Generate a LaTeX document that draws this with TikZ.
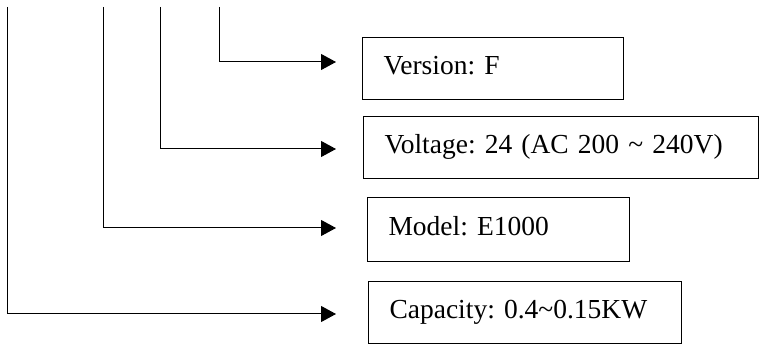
\documentclass[tikz,border=0pt]{standalone}
\usepackage{fontspec}
\setmainfont{Liberation Serif}
\usetikzlibrary{positioning, arrows.meta}
\frenchspacing

\tikzset{
    field/.style={draw, line width=1pt, anchor=north west, align=left,
        inner xsep=21pt, inner ysep=0pt, text height=19pt, text depth=6pt,
        font=\fontsize{27.5}{30}\selectfont\frenchspacing},
    lead/.style={line width=1pt},
    leadarrow/.style={lead, -{Triangle[length=15pt, width=16pt]}}
}

\begin{document}
\begin{tikzpicture}[x=1pt, y=-1pt]

    \useasboundingbox (0,0) rectangle (760,344);

    \node[field, text width=219pt, minimum height=62pt] (version) at (362,37) {Version: F};
    \node[field, text width=353pt, minimum height=62pt] (voltage) at (363,116) {Voltage: 24 (AC 200 \textasciitilde{} 240V)};
    \node[field, text width=220pt, minimum height=64pt] (model) at (367,197) {Model: E1000};
    \node[field, text width=271pt, minimum height=62pt] (capacity) at (368,281) {Capacity: 0.4\textasciitilde0.15KW};

    \coordinate (versiontop) at (219,7);
    \coordinate (voltagetop) at (160,7);
    \coordinate (modeltop) at (103,7);
    \coordinate (capacitytop) at (7,7);

    \coordinate (versionend) at (336,62);
    \coordinate (voltageend) at (336,149);
    \coordinate (modelend) at (336,228);
    \coordinate (capacityend) at (336,314);

    \draw[leadarrow] (versiontop) |- (versionend);
    \draw[leadarrow] (voltagetop) |- (voltageend);
    \draw[leadarrow] (modeltop) |- (modelend);
    \draw[leadarrow] (capacitytop) |- (capacityend);

\end{tikzpicture}
\end{document}
